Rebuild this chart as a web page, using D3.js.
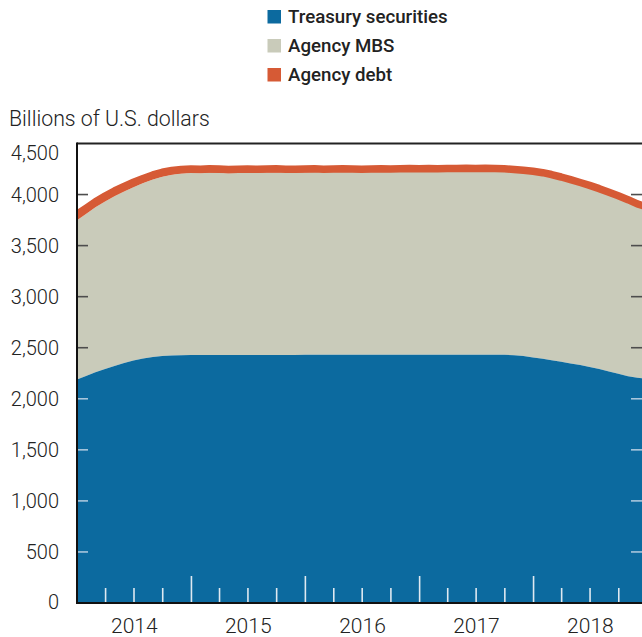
<!DOCTYPE html>
<html><head><meta charset="utf-8">
<script src="https://cdn.jsdelivr.net/npm/d3@7"></script>
<style>
html,body{margin:0;padding:0;background:#fff;}
svg{display:block;font-family:Roboto,"Noto Sans",sans-serif;}
</style></head>
<body><svg id="c" width="642" height="637"></svg>
<script>
// Monthly observations, Jan 2014 .. Jan 2019 (billions of U.S. dollars)
const seriesNames = ["Treasury securities", "Agency MBS", "Agency debt"];
const seriesColors = ["#0c6a9f", "#c9cbba", "#d65a35"];
const startMonth = "2014-01";
const treasury = [2190,2225,2260,2292,2322,2350,2374,2394,2408,2418,2424,2427,
  2428,2428,2428,2428,2428,2428,2428,2428,2428,2428,2428,2428,
  2430,2430,2430,2430,2430,2430,2430,2430,2430,2430,2430,2430,
  2432,2432,2432,2432,2432,2432,2432,2432,2432,2430,2426,2418,
  2405,2392,2378,2362,2346,2330,2312,2292,2268,2245,2220,2205,2195];
const mbs = [1559,1589,1615,1639,1661,1680,1698,1718,1740,1757,1770,1779,
  1783,1781,1786,1784,1781,1784,1787,1784,1787,1789,1787,1786,
  1787,1790,1788,1792,1795,1794,1793,1798,1802,1800,1804,1808,
  1805,1809,1809,1813,1812,1816,1815,1819,1818,1817,1815,1816,
  1819,1818,1814,1807,1797,1785,1775,1763,1751,1740,1728,1701,1683];
const agencyDebt = [57,56,55,54,52,50,48,46,44,43,42,40,
  39,39,38,38,37,37,36,36,35,35,34,33,
  33,32,31,29,28,26,25,23,21,20,18,16,
  15,14,12,11,10,9,8,7,6,5,5,4,
  4,4,4,3,3,3,3,3,3,3,2,2,2];
const yTicks = [0,500,1000,1500,2000,2500,3000,3500,4000,4500];
const yearLabels = ["2014","2015","2016","2017","2018"];
const yTitle = "Billions of U.S. dollars";

const svg = d3.select("#c");
const M = {left:77, top:143.5, bottom:603, right:642};
const parseM = d3.timeParse("%Y-%m");
const d0 = parseM(startMonth);
const dates = treasury.map((_, i) => d3.timeMonth.offset(d0, i));
const table = dates.map((d, i) => ({date:d, t:treasury[i], m:mbs[i], a:agencyDebt[i]}));

const x = d3.scaleTime().domain([parseM("2014-01"), parseM("2019-01")]).range([M.left, M.left + 570]);
const y = d3.scaleLinear().domain([0, 4500]).range([M.bottom, M.top]);

const stack = d3.stack().keys(["t","m","a"]);
const layers = stack(table);

svg.append("defs").append("clipPath").attr("id","pc")
  .append("rect").attr("x",M.left).attr("y",M.top-10).attr("width",M.right-M.left).attr("height",M.bottom-M.top+10);

const g = svg.append("g").attr("clip-path","url(#pc)");
const area = d3.area().x(d => x(d.data.date)).y0(d => y(d[0])).y1(d => y(d[1]));
g.append("path").datum(layers[1]).attr("d", area).attr("fill", seriesColors[1]);
g.append("path").datum(layers[0]).attr("d", area).attr("fill", seriesColors[0]);
g.append("path").datum(layers[2]).attr("d", area).attr("fill", seriesColors[2]);
g.append("path").datum(layers[2])
  .attr("d", d3.line().x(d => x(d.data.date)).y(d => y(d[1])))
  .attr("fill","none").attr("stroke", seriesColors[2]).attr("stroke-width", 7.5).attr("stroke-linejoin","round");

// y ticks inside, left and right
const tVal = xv => {
  const dt = x.invert(xv);
  const i = Math.max(0, Math.min(table.length-1, d3.bisector(d=>d.date).center(table, dt)));
  return table[i].t;
};
const tickG = svg.append("g");
yTicks.filter(v => v > 0 && v < 4500).forEach(v => {
  [[M.left, M.left+11],[M.right-11, M.right]].forEach(([a,b]) => {
    const onBlue = v < tVal((a+b)/2);
    tickG.append("line").attr("x1",a).attr("x2",b).attr("y1",y(v)).attr("y2",y(v))
      .attr("stroke", onBlue ? "#a9c6dc" : "#4d4d4d").attr("stroke-width",1.6);
  });
});

// bottom quarter/year ticks (white, pointing up)
const quarters = d3.timeMonth.every(3).range(parseM("2014-02"), parseM("2019-01"));
const qTicks = quarters.filter(d => d.getMonth() !== 0);
const yTickDates = d3.timeYear.range(parseM("2015-01"), parseM("2019-01"));
const qAxis = d3.axisBottom(x).tickValues(qTicks).tickSize(-15).tickFormat("");
const yAxisTicks = d3.axisBottom(x).tickValues(yTickDates).tickSize(-27).tickFormat("");
[qAxis, yAxisTicks].forEach(ax => {
  const a = svg.append("g").attr("transform",`translate(0,${M.bottom})`).call(ax);
  a.select(".domain").remove();
  a.selectAll("line").attr("stroke","#dfe9f1").attr("stroke-width",1.6);
});

// x labels at mid-year
const labAxis = d3.axisBottom(x)
  .tickValues(yearLabels.map(s => d3.timeParse("%Y-%m-%d")(s + "-07-02")))
  .tickSize(0).tickFormat(d => yearLabels[d.getFullYear()-2014]);
const la = svg.append("g").attr("transform",`translate(0,${M.bottom})`).call(labAxis);
la.select(".domain").remove();
la.selectAll("text").attr("y", 29.5).attr("dy", 0).attr("font-size", 21).attr("font-weight", 300)
  .attr("fill","#222").attr("font-family","Roboto");

// y labels
const yLab = d3.axisLeft(y).tickValues(yTicks).tickSize(0).tickFormat(d3.format(","));
const ya = svg.append("g").attr("transform",`translate(${M.left-18},0)`).call(yLab);
ya.select(".domain").remove();
ya.selectAll("text").attr("x",0).attr("font-size",20).attr("font-weight",300).attr("fill","#222")
  .attr("font-family","Roboto")
  .attr("dy","0.35em")
  .attr("transform", d => d === 4500 ? "translate(0,8.5)" : (d === 0 ? "translate(0,-2)" : null));

// frame lines
svg.append("line").attr("x1",M.left).attr("x2",M.right).attr("y1",M.top).attr("y2",M.top)
  .attr("stroke","#222").attr("stroke-width",2);
svg.append("line").attr("x1",M.left).attr("x2",M.left).attr("y1",M.top-1).attr("y2",M.bottom+1)
  .attr("stroke","#111").attr("stroke-width",2);
svg.append("line").attr("x1",M.left-1).attr("x2",M.right).attr("y1",M.bottom).attr("y2",M.bottom)
  .attr("stroke","#111").attr("stroke-width",2);

// y title
svg.append("text").attr("x",9).attr("y",126).attr("font-size",21.3).attr("font-weight",300)
  .attr("fill","#222").text(yTitle);

// legend
const leg = svg.append("g");
seriesNames.forEach((n, i) => {
  const cy = 16.5 + i*29;
  leg.append("rect").attr("x",267.5).attr("y",cy-6.5).attr("width",13.5).attr("height",13.5).attr("fill",seriesColors[i]);
  leg.append("text").attr("x",288).attr("y",cy).attr("dy","0.36em").attr("font-size",18.7)
    .attr("font-weight",500).attr("fill","#222").text(n);
});
</script></body></html>
